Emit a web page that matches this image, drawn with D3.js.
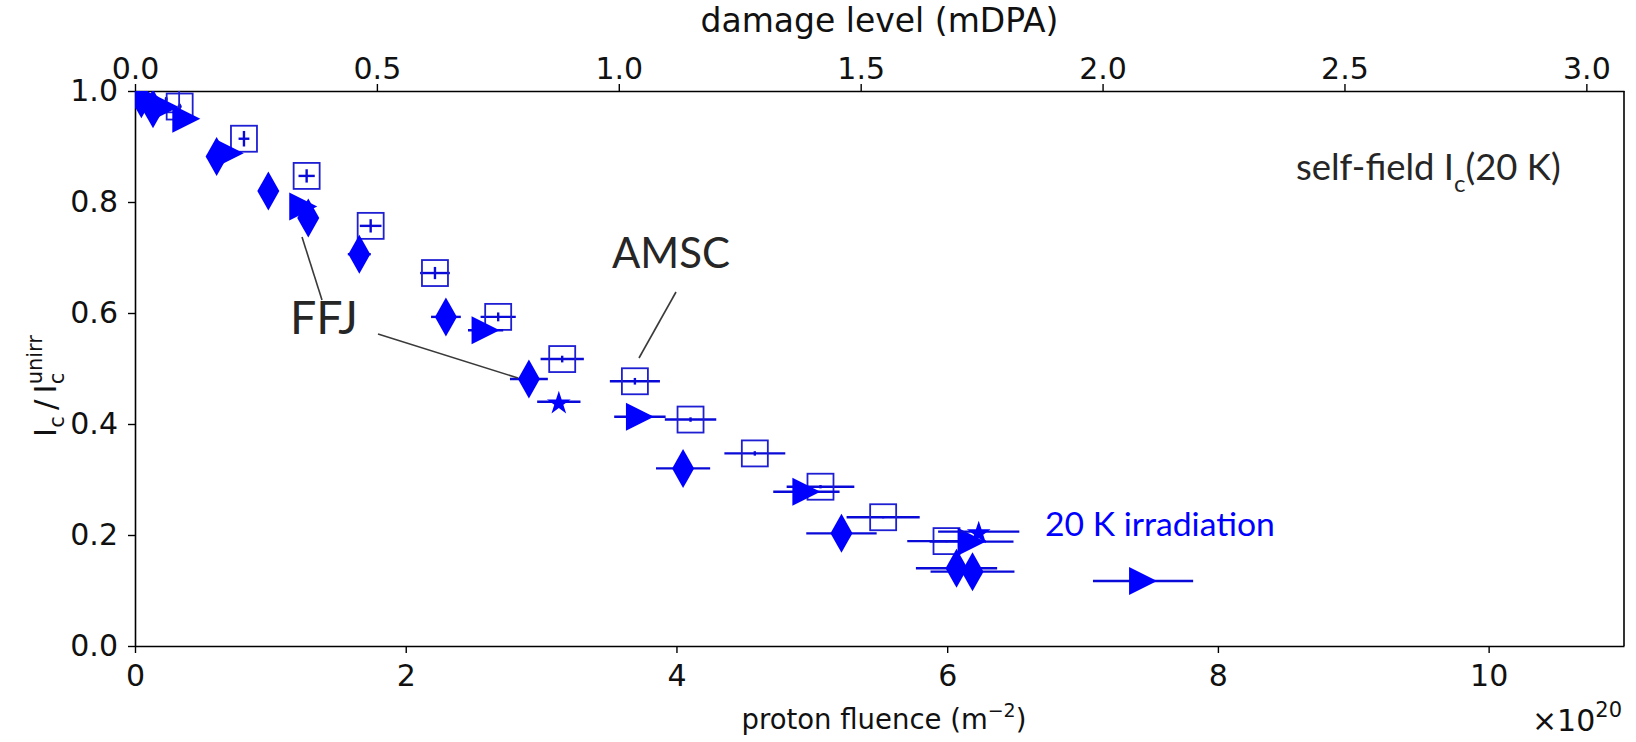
<!DOCTYPE html>
<html><head><meta charset="utf-8">
<script src="https://cdn.jsdelivr.net/npm/d3@7"></script>
<style>body{margin:0;background:#fff} svg{display:block}</style>
</head><body>
<svg id="chart" width="1636" height="742"></svg>
<script>
// ---------- data (fluence in 1e20 m^-2, Ic/Ic_unirr) ----------
const amscFluence    = [0.23, 0.33, 0.805, 1.268, 1.741, 2.216, 2.683, 3.156, 3.693, 4.104, 4.579, 5.064, 5.527, 5.995];
const amscRatio      = [0.985, 0.972, 0.914, 0.847, 0.757, 0.672, 0.593, 0.517, 0.477, 0.408, 0.347, 0.287, 0.232, 0.189];
const amscFluenceErr = [0.01, 0.015, 0.04, 0.06, 0.08, 0.11, 0.13, 0.16, 0.185, 0.19, 0.225, 0.25, 0.27, 0.29];
const amscRatioErr   = [0.004, 0.005, 0.014, 0.012, 0.012, 0.011, 0.008, 0.006, 0.006, 0.004, 0.004, 0.003, 0.002, 0.002];

const ffjFluence     = [0.047, 0.133, 0.603, 0.985, 1.28, 1.657, 2.297, 2.91, 4.049, 5.219, 6.069, 6.187];
const ffjRatio       = [0.986, 0.968, 0.882, 0.820, 0.771, 0.706, 0.593, 0.481, 0.320, 0.203, 0.140, 0.134];
const ffjFluenceErr  = [0.003, 0.007, 0.03, 0.05, 0.065, 0.085, 0.11, 0.14, 0.2, 0.26, 0.3, 0.31];

const triFluence     = [0.07, 0.22, 0.379, 0.70, 1.243, 2.59, 3.73, 4.96, 6.18, 7.447];
const triRatio       = [0.989, 0.971, 0.950, 0.888, 0.792, 0.569, 0.413, 0.278, 0.188, 0.117];
const triFluenceErr  = [0.004, 0.011, 0.02, 0.035, 0.06, 0.13, 0.19, 0.245, 0.31, 0.37];

const starFluence    = [3.131, 6.233];
const starRatio      = [0.440, 0.206];
const starFluenceErr = [0.16, 0.3];

const bottomTicks = [0, 2, 4, 6, 8, 10];
const topTicks    = [0.0, 0.5, 1.0, 1.5, 2.0, 2.5, 3.0];
const yTicks      = [0.0, 0.2, 0.4, 0.6, 0.8, 1.0];
const fluenceMax  = 11;
const dpaPerFluence = 0.2798; // mDPA per 1e20 m^-2

// ---------- layout ----------
const L = 135, R = 1624, T = 91, B = 646;
const svg = d3.select('#chart');
const x = d3.scaleLinear().domain([0, fluenceMax]).range([L, R]);
const xTop = d3.scaleLinear().domain([0, fluenceMax * dpaPerFluence]).range([L, R]);
const y = d3.scaleLinear().domain([0, 1]).range([B, T]);

const BLUE = '#0000ff', BAR = '#0a0ad8', TXT = '#262626';
const tickFont = 'DejaVu Sans', tickSize = 30;

svg.append('defs').append('clipPath').attr('id', 'clip')
  .append('rect').attr('x', L).attr('y', T).attr('width', R - L).attr('height', B - T);

// ---------- axes ----------
function styleAxis(g) {
  g.selectAll('path.domain').attr('stroke', '#000').attr('stroke-width', 1.6);
  g.selectAll('.tick line').attr('stroke', '#000').attr('stroke-width', 1.4);
  g.selectAll('.tick text').attr('font-family', tickFont).attr('font-size', tickSize).attr('fill', '#111');
}
svg.append('g').attr('transform', `translate(0,${B})`)
  .call(d3.axisBottom(x).tickValues(bottomTicks).tickFormat(d3.format('d')).tickSize(7).tickPadding(12).tickSizeOuter(0))
  .call(styleAxis);
svg.append('g').attr('transform', `translate(0,${T})`)
  .call(d3.axisTop(xTop).tickValues(topTicks).tickFormat(d3.format('.1f')).tickSize(7).tickPadding(5).tickSizeOuter(0))
  .call(styleAxis);
svg.append('g').attr('transform', `translate(${L},0)`)
  .call(d3.axisLeft(y).tickValues(yTicks).tickFormat(d3.format('.1f')).tickSize(7).tickPadding(10).tickSizeOuter(0))
  .call(styleAxis);
svg.append('line').attr('x1', R).attr('x2', R).attr('y1', T).attr('y2', B)
  .attr('stroke', '#000').attr('stroke-width', 1.6);

// ---------- axis labels ----------
svg.append('text').attr('x', (L + R) / 2).attr('y', 32).attr('text-anchor', 'middle')
  .attr('font-family', tickFont).attr('font-size', 33).attr('fill', '#111').text('damage level (mDPA)');
const bl = svg.append('text').attr('x', 884).attr('y', 729).attr('text-anchor', 'middle')
  .attr('font-family', tickFont).attr('font-size', 27.5).attr('fill', '#111');
bl.append('tspan').text('proton fluence (m');
bl.append('tspan').attr('font-size', 19).attr('dy', -12).text('\u22122');
bl.append('tspan').attr('dy', 12).text(')');

const off = svg.append('text').attr('x', 1622).attr('y', 731).attr('text-anchor', 'end')
  .attr('font-family', tickFont).attr('font-size', 30).attr('fill', '#111');
off.append('tspan').text('\u00d710');
off.append('tspan').attr('font-size', 21).attr('dy', -14).text('20');

// y label: I_c / I_c^unirr (rotated)
(function () {
  const g = svg.append('g').attr('transform', 'translate(56,386) rotate(-90)');
  const big = 31, small = 21;
  let cx = 0;
  function piece(str, size, dy) {
    return g.append('text').attr('x', cx).attr('y', dy).attr('font-family', tickFont)
      .attr('font-size', size).attr('fill', '#111').text(str);
  }
  let t = piece('I', big, 0); cx += t.node().getComputedTextLength();
  t = piece('c', small, 8); cx += t.node().getComputedTextLength();
  t = piece('\u2009/\u2009', big, 0); cx += t.node().getComputedTextLength();
  t = piece('I', big, 0); cx += t.node().getComputedTextLength();
  const t1 = piece('unirr', small, -14);
  const t2 = piece('c', small, 8);
  cx += Math.max(t1.node().getComputedTextLength(), t2.node().getComputedTextLength());
  g.selectAll('text').attr('x', function () { return +d3.select(this).attr('x') - cx / 2; });
})();

// ---------- data marks ----------
const plot = svg.append('g').attr('clip-path', 'url(#clip)');

function hbars(fl, ratio, err) {
  plot.append('g').selectAll('line').data(fl).join('line')
    .attr('x1', (d, i) => x(d - err[i])).attr('x2', (d, i) => x(d + err[i]))
    .attr('y1', (d, i) => y(ratio[i])).attr('y2', (d, i) => y(ratio[i]))
    .attr('stroke', BAR).attr('stroke-width', 2.4);
}

// AMSC open squares
hbars(amscFluence, amscRatio, amscFluenceErr);
plot.append('g').selectAll('line').data(amscFluence).join('line')
  .attr('x1', d => x(d)).attr('x2', d => x(d))
  .attr('y1', (d, i) => y(amscRatio[i] - amscRatioErr[i]))
  .attr('y2', (d, i) => y(amscRatio[i] + amscRatioErr[i]))
  .attr('stroke', BAR).attr('stroke-width', 2.4);
plot.append('g').selectAll('rect').data(amscFluence).join('rect')
  .attr('x', d => x(d) - 13).attr('y', (d, i) => y(amscRatio[i]) - 13)
  .attr('width', 26).attr('height', 26)
  .attr('fill', 'none').attr('stroke', '#1e1ed2').attr('stroke-width', 1.8);

// FFJ diamonds
hbars(ffjFluence, ffjRatio, ffjFluenceErr);
plot.append('g').selectAll('path').data(ffjFluence).join('path')
  .attr('transform', (d, i) => `translate(${x(d)},${y(ffjRatio[i])})`)
  .attr('d', 'M0,-19.5L11,0L0,19.5L-11,0Z').attr('fill', BLUE);

// right-pointing triangles
hbars(triFluence, triRatio, triFluenceErr);
plot.append('g').selectAll('path').data(triFluence).join('path')
  .attr('transform', (d, i) => `translate(${x(d)},${y(triRatio[i])})`)
  .attr('d', 'M14,0L-14,-14L-14,14Z').attr('fill', BLUE);

// stars
const starPath = (() => {
  const Ro = 12.5, Ri = Ro * 0.382; let p = '';
  for (let k = 0; k < 10; k++) {
    const r = k % 2 ? Ri : Ro, a = -Math.PI / 2 + k * Math.PI / 5;
    p += (k ? 'L' : 'M') + (r * Math.cos(a)).toFixed(2) + ',' + (r * Math.sin(a)).toFixed(2);
  }
  return p + 'Z';
})();
hbars(starFluence, starRatio, starFluenceErr);
plot.append('g').selectAll('path').data(starFluence).join('path')
  .attr('transform', (d, i) => `translate(${x(d)},${y(starRatio[i]) + 1.5})`)
  .attr('d', starPath).attr('fill', BLUE);

// ---------- annotations ----------
const annFont = 'Lato, "Open Sans", sans-serif';
function fitText(sel, width) {
  const w = sel.node().getComputedTextLength();
  const fs = +sel.attr('font-size');
  sel.attr('font-size', fs * width / w);
}
const amsc = svg.append('text').attr('x', 612).attr('y', 268).attr('font-family', annFont)
  .attr('font-size', 38).attr('fill', TXT).text('AMSC');
fitText(amsc, 118);
const ffj = svg.append('text').attr('x', 290).attr('y', 334).attr('font-family', annFont)
  .attr('font-size', 38).attr('fill', TXT).text('FFJ');
fitText(ffj, 68);
const irr = svg.append('text').attr('x', 1045).attr('y', 536).attr('font-family', annFont)
  .attr('font-size', 36).attr('fill', BLUE).text('20 K irradiation');
fitText(irr, 230);
const sf = svg.append('text').attr('x', 1296).attr('y', 180).attr('font-family', annFont)
  .attr('font-size', 36).attr('fill', TXT);
sf.append('tspan').text('self-field I');
sf.append('tspan').attr('font-size', 24).attr('dy', 12).text('c');
sf.append('tspan').attr('dy', -12).text('(20 K)');
fitText(sf, 265);

const annLines = [
  [676, 292, 639, 358],
  [302, 237, 322, 300],
  [378, 334, 518, 378]
];
svg.append('g').selectAll('line').data(annLines).join('line')
  .attr('x1', d => d[0]).attr('y1', d => d[1]).attr('x2', d => d[2]).attr('y2', d => d[3])
  .attr('stroke', '#3a3a3a').attr('stroke-width', 1.6);
</script>
</body></html>
